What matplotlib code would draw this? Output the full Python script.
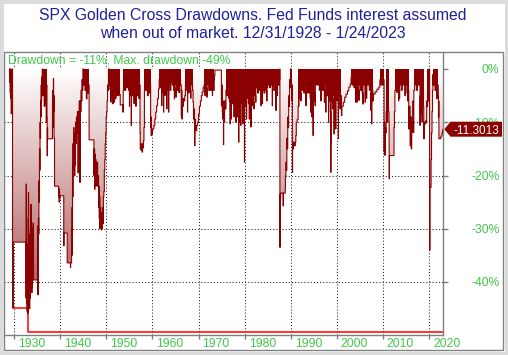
import numpy as np
import matplotlib
matplotlib.use("Agg")
import matplotlib.pyplot as plt
import matplotlib.transforms as mtransforms
from matplotlib.patches import Rectangle, Polygon

# ---------------- data (year, drawdown %) ----------------
dd_1920s = [(1928.99, 0), (1929.04, -2.5), (1929.08, 0), (1929.13, -4.5), (1929.18, -1), (1929.23, -5.5),
            (1929.28, -2), (1929.33, -8.4), (1929.45, -3), (1929.5, -5), (1929.55, 0), (1929.64, -44.8),
            (1929.8, -32.5)]
dd_1930s = [(1932.55, -43), (1932.6, -21.6), (1932.64, -40), (1932.68, -28), (1932.72, -44), (1932.76, -33),
            (1932.8, -45.5), (1932.84, -36), (1932.88, -46), (1932.92, -38), (1932.96, -45.8), (1933.0, -35),
            (1933.04, -45), (1933.08, -23.2), (1933.12, -42), (1933.16, -31), (1933.2, -44), (1933.26, -34),
            (1933.32, -45), (1933.38, -33), (1933.44, -43), (1933.5, -30), (1933.56, -41), (1933.62, -25.4),
            (1933.68, -40), (1933.74, -32), (1933.8, -42), (1933.86, -34), (1933.92, -41), (1933.98, -30),
            (1934.04, -39), (1934.1, -28.9), (1934.14, -39.6), (1935.1, -29.5), (1935.14, -42.4), (1935.18, -33),
            (1935.24, -28), (1935.3, -31), (1935.36, -21), (1935.42, -25), (1935.48, -15), (1935.54, -19),
            (1935.6, -10), (1935.66, -13), (1935.72, -6), (1935.78, -9), (1935.84, -3), (1935.9, -6),
            (1935.96, -1.5), (1936.02, -4), (1936.08, 0), (1936.2, -5), (1936.35, -3), (1936.5, -7),
            (1936.65, -4), (1936.8, -6.5), (1936.95, -10), (1937.0, -3), (1937.1, -9), (1937.15, -16.3),
            (1937.2, -11), (1937.25, -13.1), (1938.3, -6), (1938.35, -11), (1938.4, -4), (1938.45, -10),
            (1938.5, -1.8), (1938.55, -8), (1938.6, -5), (1938.65, -13), (1938.75, -22), (1939.65, -24),
            (1939.7, -22.5), (1939.75, -25), (1939.8, -23), (1939.85, -24.5), (1939.9, -23.8)]
dd_1940s = [(1940.75, -33.2), (1940.8, -30.8), (1941.5, -36.4), (1942.2, -37.3), (1942.25, -36.4), (1942.45, -30),
            (1942.5, -35), (1942.55, -26), (1942.6, -31), (1942.65, -18), (1942.7, -24), (1942.75, -14),
            (1942.8, -19), (1942.9, -11), (1942.95, -17), (1943.0, -12), (1943.1, -20), (1943.15, -13),
            (1943.2, -18), (1943.3, -10), (1943.4, -14), (1943.5, -9), (1943.6, -12), (1943.7, -8),
            (1943.85, -19.5), (1943.9, -8), (1944.0, -10), (1944.1, -6), (1944.25, -21.3), (1944.3, -6),
            (1944.4, -8), (1944.5, -4), (1944.6, -6), (1944.7, -2), (1944.8, -4), (1944.9, 0), (1945.05, -3),
            (1945.2, -1.5), (1945.35, -4), (1945.5, -2), (1945.65, -5.6), (1945.8, -2.5), (1945.95, -4.5),
            (1946.1, -3), (1946.25, -13.3), (1947.3, -20), (1947.35, -15), (1947.45, -22.6), (1947.5, -16),
            (1947.6, -21), (1947.65, -17), (1947.75, -22), (1947.8, -18), (1947.9, -21), (1948.0, -17.5),
            (1948.1, -22), (1948.2, -20), (1948.3, -26), (1948.35, -22), (1948.45, -28), (1948.5, -24),
            (1948.6, -30), (1948.65, -26), (1948.75, -29.5), (1948.8, -27), (1948.9, -30.2), (1948.95, -28),
            (1949.05, -30), (1949.15, -26), (1949.25, -29), (1949.35, -24), (1949.45, -23), (1949.55, -19),
            (1949.65, -17), (1949.75, -14), (1949.85, -12), (1949.95, -9)]
dd_1950s = [(1950.05, -8), (1950.15, -6), (1950.25, -3), (1950.35, -4), (1950.45, 0), (1950.6, -3),
            (1950.75, -3.8), (1950.9, -6.2), (1951.05, -4), (1951.2, -5.5), (1951.35, -6.5), (1951.5, -5),
            (1951.65, -6.2), (1951.8, -4.5), (1951.95, -5.5), (1952.1, -5), (1952.3, -4), (1952.5, -5),
            (1952.7, -3.5), (1952.85, -4.8), (1953.0, -6.75), (1953.6, -8.1), (1953.65, -4), (1953.8, -3),
            (1954.0, -4), (1954.2, -2), (1954.4, -3.5), (1954.6, -2.5), (1954.8, -4), (1955.0, -7),
            (1955.03, -3.5), (1955.1, -3), (1955.25, -5), (1955.4, -10.6), (1955.43, -4), (1955.6, -5),
            (1955.8, -4), (1956.0, -6.5), (1956.03, -4), (1956.2, -5), (1956.4, -7), (1956.43, -4),
            (1956.6, -5), (1956.8, -4), (1957.0, -5.5), (1957.2, -3), (1957.3, -12),
            (1957.35, -15), (1957.45, -14.2), (1957.55, -15.3), (1957.65, -14), (1957.75, -15.6),
            (1957.85, -14.5), (1957.95, -14.8), (1958.05, -13.5), (1958.15, -11), (1958.25, -4), (1958.5, -3),
            (1958.7, -4), (1958.9, -5), (1959.1, -3.5), (1959.3, -4.5), (1959.5, -3), (1959.6, -11),
            (1959.65, -9), (1959.7, -12.5), (1959.8, -11.3), (1959.9, -12.2)]
dd_1960s = [(1960.0, -11.5), (1960.1, -11.2), (1960.3, -10.6), (1960.5, -9.4), (1960.7, -8.1), (1960.9, -6.9),
            (1961.1, -5.6), (1961.3, -3.8), (1961.45, -2), (1961.7, -3.5), (1961.9, -2.5), (1962.0, -6.9),
            (1962.03, -3.5), (1962.1, -4), (1962.3, -4.5), (1962.4, -8.1), (1962.43, -4), (1962.5, -3.5),
            (1962.7, -5), (1962.73, -3), (1962.9, -4), (1963.1, -7.5), (1963.13, -3.5), (1963.3, -4),
            (1963.5, -8.1), (1963.53, -3), (1963.8, -4), (1964.0, -2.5), (1964.3, -3), (1964.6, -4),
            (1964.75, -5.6), (1964.78, -3), (1965.1, -5.3), (1965.13, -3.5), (1965.3, -4), (1965.5, -3),
            (1965.7, -4.4), (1965.9, -2), (1966.1, -3), (1966.25, -8.75), (1966.3, -4),
            (1966.4, -9.4), (1966.45, -5.6), (1966.6, -7), (1966.7, -5.6), (1966.9, -6), (1967.0, -5),
            (1967.15, -3), (1967.4, -4), (1967.6, -8.1), (1967.63, -3.5), (1967.9, -4.5), (1967.93, -3),
            (1968.1, -4), (1968.3, -5.5), (1968.33, -3), (1968.5, -3), (1968.7, -4), (1968.8, -6.25),
            (1968.9, -9.4), (1969.0, -7.5), (1969.1, -10), (1969.15, -14.4), (1969.2, -9.4), (1969.3, -11),
            (1969.4, -10.6), (1969.5, -11.6), (1969.6, -10.6), (1969.8, -10)]
dd_1970s = [(1970.0, -8.5), (1970.2, -7), (1970.4, -6), (1970.6, -5), (1970.8, -4.3), (1971.0, -3.5),
            (1971.2, -3), (1971.4, -5), (1971.43, -3), (1971.6, -3.5), (1971.8, -5.3), (1971.83, -3),
            (1972.0, -3), (1972.2, -4), (1972.4, -2.5), (1972.6, -4), (1972.8, -3), (1973.0, -5), (1973.03, -3),
            (1973.2, -4), (1973.4, -2), (1973.45, -1.2), (1973.55, -0.2), (1974.95, -6.9), (1975.05, -3),
            (1975.15, -8), (1975.25, -9.4), (1975.35, -6), (1975.4, -14.2), (1975.45, -8), (1975.55, -10),
            (1975.65, -6), (1975.8, -7.5), (1975.95, -4), (1976.1, -5), (1976.3, -4), (1976.5, -5.5),
            (1976.7, -6), (1976.85, -10.3), (1976.88, -5.5), (1977.0, -6.5), (1977.1, -9.4), (1977.13, -6),
            (1977.3, -6.5), (1977.5, -5.5), (1977.7, -9), (1977.73, -6), (1977.9, -6.5), (1978.1, -10),
            (1978.13, -6.5), (1978.3, -5.5), (1978.5, -9), (1978.53, -6), (1978.7, -13.75), (1978.73, -6.5),
            (1978.9, -10), (1978.93, -6.5), (1979.0, -6), (1979.15, -10.6), (1979.18, -6), (1979.4, -6.5),
            (1979.6, -10.3), (1979.63, -6), (1979.85, -6.5), (1979.95, -17.5)]
dd_1980s = [(1979.98, -7), (1980.2, -6), (1980.4, -9.4), (1980.43, -5.5), (1980.6, -5), (1980.8, -6.5),
            (1981.0, -9.4), (1981.03, -5.5), (1981.2, -6), (1981.35, -10.9), (1981.38, -5), (1981.6, -6.9),
            (1981.63, -5), (1981.8, -6.25), (1982.0, -7.5), (1982.03, -5), (1982.2, -5), (1982.4, -6.25),
            (1982.43, -3.5), (1982.6, -3), (1982.8, -4.5), (1983.0, -3), (1983.2, -4), (1983.4, -3.5),
            (1983.55, -6.9), (1983.58, -3.5), (1983.7, -4), (1983.85, -6.5), (1983.88, -3.5), (1984.0, -4),
            (1984.2, -4.5), (1984.4, -3), (1984.6, -4), (1984.8, -6), (1984.83, -3.5), (1985.0, -3),
            (1985.2, -2.5), (1985.4, -3.5), (1985.6, -2), (1985.8, -3), (1986.0, -6.9), (1986.03, -3),
            (1986.3, -4), (1986.5, -2.5), (1986.7, -4), (1986.8, -7.8), (1986.83, -4), (1987.1, -5),
            (1987.13, -3), (1987.3, -3), (1987.5, -2), (1987.6, 0),
            (1987.65, -33.5), (1987.7, -23.5), (1987.76, -24.4), (1987.82, -23.3), (1988.35, -25.7),
            (1988.4, -23.3), (1988.8, -22.5), (1988.85, -20), (1988.95, -17.5), (1989.05, -19), (1989.15, -13),
            (1989.25, -15), (1989.35, -9), (1989.45, -11), (1989.55, -5), (1989.65, -7), (1989.75, -2),
            (1989.85, -3.5), (1989.95, 0)]
dd_1990s = [(1990.05, -3), (1990.2, -6), (1990.3, -3), (1990.35, -19.4), (1990.4, -13.75), (1990.5, -15),
            (1990.6, -13.75), (1990.8, -14.4), (1991.0, -13.75), (1991.1, -12.5), (1991.2, -10), (1991.4, -9.5),
            (1991.6, -7), (1991.8, -5.5), (1992.0, -4.5), (1992.2, -6), (1992.23, -4), (1992.4, -4),
            (1992.6, -3), (1992.8, -4.5), (1993.0, -3), (1993.2, -4), (1993.3, -6.9), (1993.33, -3),
            (1993.6, -4.5), (1993.8, -3), (1994.0, -4.5), (1994.2, -5.5), (1994.3, -8.1), (1994.33, -5),
            (1994.5, -6), (1994.6, -9), (1994.63, -5.5), (1994.85, -12.5), (1994.88, -6), (1995.1, -4.5),
            (1995.3, -6.9), (1995.33, -3), (1995.6, -2), (1995.8, -3), (1996.0, -2.5), (1996.2, -4),
            (1996.4, -3), (1996.55, -6), (1996.58, -3.5), (1996.9, -4), (1997.1, -3), (1997.3, -6.25),
            (1997.33, -3), (1997.6, -8.1), (1997.63, -4), (1997.85, -5), (1998.0, -4), (1998.2, -10),
            (1998.23, -5), (1998.45, -6), (1998.6, -8), (1998.68, -19.4), (1998.72, -14), (1998.75, -6),
            (1998.9, -5.5), (1999.05, -7.5), (1999.08, -5), (1999.4, -12.2), (1999.43, -5.5), (1999.6, -7.5),
            (1999.63, -5), (1999.75, -11.25), (1999.78, -5)]
dd_2000s = [(2000.0, -3), (2000.1, -6), (2000.13, -4), (2000.33, -13.1), (2000.36, -5), (2000.55, -4),
            (2000.7, -7.5), (2000.73, -5), (2001.0, -8.75), (2001.1, -7), (2001.4, -6.25), (2001.7, -5.3),
            (2002.0, -4.7), (2002.3, -4.1), (2002.6, -3.4), (2002.9, -2.8), (2003.1, -1.5), (2003.3, -3),
            (2003.5, -2), (2003.7, -3.5), (2003.9, -3), (2004.05, -6.25), (2004.08, -3.5), (2004.35, -6.25),
            (2004.38, -3), (2004.65, -4), (2004.8, -5.9), (2004.83, -3), (2005.15, -4), (2005.35, -3),
            (2005.5, -4.5), (2005.65, -6.6), (2005.68, -3), (2005.95, -2.5), (2006.15, -6.25), (2006.18, -3),
            (2006.45, -5.5), (2006.48, -3), (2006.85, -2), (2007.05, -4), (2007.25, -3), (2007.4, -7.8),
            (2007.43, -4.5), (2007.55, -10.3), (2007.58, -4), (2007.8, -6), (2007.9, -4.7), (2008.3, -4.3),
            (2008.7, -3.8), (2009.1, -3.4), (2009.35, -2), (2009.55, -3), (2009.75, -1.5), (2009.95, -3)]
dd_2010s = [(2010.1, -2), (2010.25, -15.6), (2010.3, -10), (2010.4, -16.2), (2010.5, -11), (2010.6, -12),
            (2010.7, -8), (2010.85, -10), (2011.0, -4), (2011.15, -8), (2011.3, -10), (2011.35, -20.6),
            (2011.42, -16.25), (2012.4, -11), (2012.5, -8), (2012.6, -4), (2012.8, -2), (2013.0, -4.4),
            (2013.2, -2.5), (2013.4, -6), (2013.43, -4), (2013.6, -5.5), (2013.63, -3), (2014.0, -4),
            (2014.2, -3), (2014.4, -2), (2014.6, -3), (2014.8, -5), (2014.83, -3), (2015.2, -4.5),
            (2015.35, -6), (2015.38, -4), (2015.6, -11.25), (2015.7, -7), (2015.9, -14.4), (2016.0, -9),
            (2016.15, -15), (2016.25, -10), (2016.4, -11.9), (2016.5, -6), (2016.6, -11.9), (2016.7, -4),
            (2016.9, -3), (2017.1, -2), (2017.3, -4), (2017.5, -2), (2017.7, -3), (2017.9, -2), (2018.05, -10.6),
            (2018.08, -5), (2018.25, -8.5), (2018.28, -5), (2018.5, -10), (2018.53, -5), (2018.75, -7),
            (2018.85, -13.1), (2018.95, -10), (2019.1, -10.3), (2019.3, -9.7), (2019.45, -10), (2019.5, -6),
            (2019.6, -7), (2019.7, -4), (2019.8, -6), (2019.9, -2)]
dd_2020s = [(2020.0, -3), (2020.1, 0), (2020.13, -34), (2020.2, -22.2), (2020.45, -17), (2020.55, -12),
            (2020.65, -8), (2020.75, -4), (2020.85, -1), (2020.9, -3), (2021.1, -2), (2021.3, -4), (2021.5, -2),
            (2021.7, -5.6), (2021.73, -3), (2022.0, -5), (2022.05, -9), (2022.1, -6), (2022.15, -13.1),
            (2022.4, -13.0), (2022.6, -12.6), (2022.8, -12.0), (2022.95, -11.5), (2023.07, -11.3013)]

# periods in which the daily drawdown oscillates so fast that it shows as a solid band up to 0 %
dense_start = [1928.99, 1936.08, 1944.9, 1950.45, 1953.65, 1958.25, 1961.45, 1967.15, 1971.2, 1975.95,
               1989.95, 1991.6, 2003.1, 2009.35, 2010.7, 2012.6, 2016.7, 2019.5, 2020.9]
dense_end = [1929.64, 1937.1, 1946.25, 1953.0, 1957.3, 1959.6, 1966.25, 1968.8, 1973.45, 1987.65,
             1990.35, 2001.0, 2007.9, 2010.25, 2011.35, 2015.6, 2018.95, 2020.13, 2022.05]

max_dd_years = [1929.64, 1932.97, 2023.07]
max_dd = [-44.8, -49.3, -49.3]

decades = [1930, 1940, 1950, 1960, 1970, 1980, 1990, 2000, 2010, 2020]
pct_ticks = [0, -10, -20, -30, -40]
grid_pct = [-10, -20, -30, -40]
title_lines = ["SPX Golden Cross Drawdowns. Fed Funds interest assumed",
               "when out of market. 12/31/1928 - 1/24/2023"]
legend_text = "Drawdown = -11%, Max. drawdown -49%"

# ---------------- figure ----------------
FONT = "Liberation Sans"
W, H = 508, 355
fig = plt.figure(figsize=(W / 100, H / 100), dpi=100)
fig.patch.set_facecolor("white")


def fx(px):
    return px / W


def fy(py):
    return 1 - py / H


DARK = "#8b0000"
GREEN = "#40c84a"
GRAY = "#808080"

ax = fig.add_axes([fx(4.3), fy(335.3), fx(443.3) - fx(4.3), fy(51.7) - fy(335.3)])
ax.set_facecolor("white")

all_pts = dd_1920s + dd_1930s + dd_1940s + dd_1950s + dd_1960s + dd_1970s + dd_1980s + dd_1990s + dd_2000s + dd_2010s + dd_2020s
x = np.array([p[0] for p in all_pts], dtype=float)
y = np.array([p[1] for p in all_pts], dtype=float)

XMIN, XMAX = 1927.85, 2023.1
YMIN, YMAX = -50.0, 3.25

# grid
for g in decades:
    ax.axvline(g, color="#202020", lw=0.75, ls=(0, (1, 2)), zorder=0.5)
for g in grid_pct:
    ax.axhline(g, color="#202020", lw=0.75, ls=(0, (1, 2)), zorder=0.5)

# gradient fill under drawdown
poly = ax.fill_between(x, y, 0, step="post", facecolor="none", edgecolor="none", zorder=1)
t = np.linspace(0, 1, 256)[:, None]
top = np.array([1.0, 1.0, 1.0])
bot = np.array([160, 60, 60]) / 255.0
grad = (1 - t)[..., None] * top + t[..., None] * bot
grad = np.repeat(grad, 2, axis=1)
im = ax.imshow(grad, extent=[XMIN, XMAX, YMIN, 0], aspect="auto", origin="upper",
               interpolation="bilinear", zorder=1)
im.set_clip_path(poly.get_paths()[0], transform=ax.transData)

# dense bands
mask = np.zeros(len(x), dtype=bool)
for s, e in zip(dense_start, dense_end):
    mask |= (x >= s - 1e-6) & (x <= e + 1e-6)
ax.fill_between(x, y, 0, where=mask, step="post", facecolor=DARK, edgecolor="none",
                linewidth=0, zorder=2)

# max drawdown line
ax.plot(max_dd_years, max_dd, drawstyle="steps-post", color="#ff0000", lw=1.1, zorder=2.5)
# drawdown line
ax.plot(x, y, drawstyle="steps-post", color=DARK, lw=0.8, zorder=3)

ax.set_xlim(XMIN, XMAX)
ax.set_ylim(YMIN, YMAX)

for side in ["left", "top"]:
    ax.spines[side].set_visible(False)
for side in ["bottom", "right"]:
    ax.spines[side].set_color(GRAY)
    ax.spines[side].set_linewidth(1.0)

ax.set_xticks(decades)
ax.set_yticks(pct_ticks)
ax.yaxis.set_ticks_position("right")
ax.tick_params(axis="x", direction="out", length=3, width=1, color=GRAY, labelbottom=False)
ax.tick_params(axis="y", direction="out", length=3.5, width=1, color=GRAY, labelright=False, labelleft=False)

# x tick labels, left aligned just right of tick
xlab_tr = mtransforms.blended_transform_factory(ax.transData, fig.transFigure)
for d in decades:
    t_ = ax.text(d, fy(346.7), str(d), transform=xlab_tr, ha="left", va="baseline",
                 fontsize=8.7, family=FONT, color=GREEN, clip_on=False)
    t_.set_transform(xlab_tr + mtransforms.ScaledTranslation(4 / 100, 0, fig.dpi_scale_trans))

# right y labels
ylab_tr = mtransforms.blended_transform_factory(fig.transFigure, ax.transData) + \
    mtransforms.ScaledTranslation(0, -4.3 / 100, fig.dpi_scale_trans)
for p in pct_ticks:
    fig.text(fx(499.5), p, f"{p}%", transform=ylab_tr, ha="right", va="baseline",
             fontsize=8.7, family=FONT, color=GREEN)

# title
fig.text(fx(252.5), fy(20), title_lines[0], ha="center", va="baseline", fontsize=11.3,
         family=FONT, color="#20209a")
fig.text(fx(252.5), fy(38.5), title_lines[1], ha="center", va="baseline", fontsize=11.3,
         family=FONT, color="#20209a")

# legend text
fig.text(fx(8.3), fy(63.3), legend_text, ha="left", va="baseline", fontsize=8.7,
         family=FONT, color=GREEN)

# value tag at last value
last_val = y[-1]
yv = ax.transData.transform((XMAX, last_val))[1]
yv_px = H - yv
tag = [(444.3, yv_px), (450.5, yv_px - 7.5), (502, yv_px - 7.5), (502, yv_px + 7.5), (450.5, yv_px + 7.5)]
fig.patches.append(Polygon([(fx(a), fy(b)) for a, b in tag], closed=True, transform=fig.transFigure,
                           facecolor=DARK, edgecolor="none", zorder=5))
fig.text(fx(476), fy(yv_px + 5), f"{last_val:.4f}", ha="center", va="baseline", fontsize=8.5,
         family=FONT, color="white", zorder=6)

# outer plot frame
fig.patches.append(Rectangle((fx(4.3), fy(350)), fx(503.3) - fx(4.3), fy(51.7) - fy(350),
                             transform=fig.transFigure, fill=False, edgecolor=GRAY, lw=1.0, zorder=4))
# light outer border of the image
fig.patches.append(Rectangle((0, 0), 1, 1, transform=fig.transFigure, fill=False,
                             edgecolor="#dcdcdc", lw=5, zorder=4))

fig.savefig("out.png", dpi=100)
